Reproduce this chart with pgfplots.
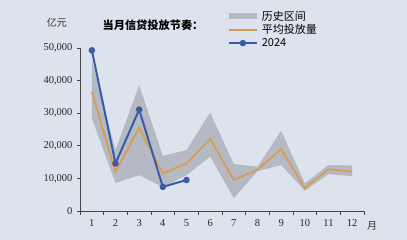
\documentclass[border=0pt]{standalone}
\usepackage{fontspec}
\setmainfont{Liberation Serif}
\newfontfamily\cjk{Noto Sans CJK SC}
\usepackage{pgfplots}
\pgfplotsset{compat=1.18}
\definecolor{bg}{RGB}{221,227,236}
\definecolor{band}{RGB}{181,185,195}
\definecolor{avg}{RGB}{216,156,86}
\definecolor{blu}{RGB}{56,92,166}
\definecolor{axc}{RGB}{70,70,70}
\begin{document}
\begin{tikzpicture}
\fill[bg] (-80pt,-29pt) rectangle (327pt,211pt);
\begin{axis}[
  at={(0pt,0pt)}, anchor=south west,
  scale only axis, width=284pt, height=163pt,
  xmin=0.5, xmax=12.5, ymin=0, ymax=50000,
  axis x line*=bottom, axis y line*=left,
  axis line style={axc, line width=0.6pt, -},
  xtick={1,...,12}, major x tick style={draw=none},
  minor xtick={0.5,1.5,...,12.5},
  minor tick length=4pt,
  x tick style={axc, line width=0.6pt}, y tick style={axc, line width=0.6pt},
  ytick={0,10000,...,50000},
  major tick length=3pt,
  tick align=outside,
  scaled y ticks=false,
  /pgf/number format/1000 sep={,},
  /pgf/number format/assume math mode=true,
  ticklabel style={font=\fontsize{10.5}{12}\selectfont, text=black!85},
  yticklabel style={xshift=-1pt},
  xticklabel style={yshift=-2pt},
  legend style={at={(0.52,1.235)}, anchor=north west, draw=none, fill=none,
    font=\cjk\fontsize{11}{13}\selectfont, row sep=1pt, inner sep=0pt,
    nodes={inner sep=1pt},
    /tikz/every odd column/.append style={column sep=3pt}},
  legend cell align=left,
  legend image code/.code={\draw[mark repeat=2,mark phase=2,#1] plot coordinates {(0pt,0pt) (14pt,0pt) (28pt,0pt)};},
  clip=false,
]
\addplot[fill=band, draw=none, legend image code/.code={\fill[band] (0pt,-3pt) rectangle (28pt,3pt);}] coordinates {
 (1,46300) (2,18700) (3,38600) (4,16900) (5,18700) (6,30200) (7,14400) (8,13600) (9,24600) (10,8500) (11,14100) (12,14000)
 (12,10700) (11,11300) (10,6200) (9,14100) (8,12200) (7,3900) (6,16700) (5,11000) (4,7300) (3,11000) (2,8600) (1,28400)} -- cycle;
\addlegendentry{历史区间}
\addplot[avg, line width=1.8pt] coordinates {
 (1,36600) (2,12000) (3,25500) (4,11500) (5,14600) (6,22100) (7,9500) (8,12700) (9,19000) (10,7000) (11,12800) (12,12100)};
\addlegendentry{平均投放量}
\addplot[blu, line width=2pt, mark=*, mark size=2.2pt, mark options={fill=blu, draw=blu}] coordinates {
 (1,49300) (2,14600) (3,31100) (4,7400) (5,9500)};
\addlegendentry{2024}
\end{axis}
\node[font=\cjk\fontsize{10}{12}\selectfont, text=black!80] at (-23pt,188pt) {亿元};
\node[font=\cjk\bfseries\fontsize{11.2}{13}\selectfont] at (73pt,186pt) {当月信贷投放节奏：};
\node[font=\cjk\fontsize{10}{12}\selectfont, text=black!80] at (292pt,-15pt) {月};
\end{tikzpicture}
\end{document}
